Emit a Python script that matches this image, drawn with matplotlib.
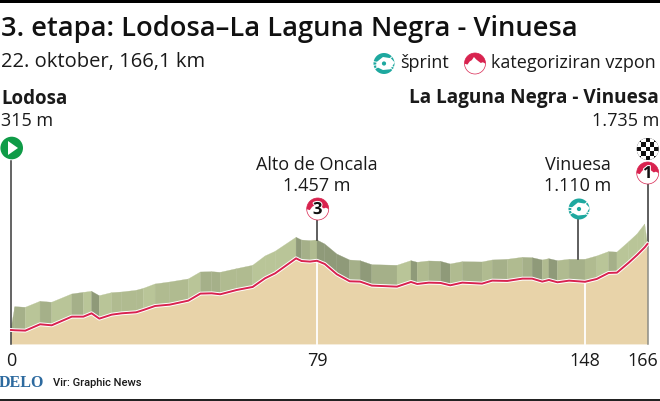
import numpy as np
import matplotlib
matplotlib.use("Agg")
import matplotlib.pyplot as plt
from matplotlib.patches import Circle, Polygon, Rectangle
import matplotlib.patheffects as pe

W, H = 660, 401

# profile
km = [0, 1, 3.7, 7.5, 10.5, 15.7, 18.7, 20.8, 22.8, 26, 28.6, 32.3, 34.2, 37.2, 41, 45.8, 48.9, 51.8, 54,
      58.3, 62.4, 65.6, 68.2, 73.6, 75, 77.2, 79, 81, 84.1, 87.4, 90.1, 93.1, 99.6, 103.2, 104.8, 107.8, 110.8,
      113.3, 116.4, 121.5, 124.1, 128, 131.9, 134.4, 137, 138.7, 140.9, 143.9, 148, 151.4, 154.8, 157.2, 160.6,
      163, 165.2, 166]
elev = [315, 310, 304, 409, 392, 535, 535, 590, 502, 568, 590, 607, 645, 711, 733, 799, 915, 920, 904,
        975, 1025, 1168, 1250, 1497, 1453, 1443, 1457, 1404, 1234, 1118, 1113, 1047, 1030, 1107, 1074, 1096, 1091,
        1052, 1096, 1080, 1129, 1124, 1162, 1162, 1113, 1140, 1102, 1129, 1110, 1157, 1256, 1261, 1426,
        1552, 1679, 1735]
ridge = [340, 700, 689, 788, 772, 909, 936, 953, 881, 931, 942, 969, 1002, 1074, 1107, 1157, 1272, 1277, 1266,
         1327, 1382, 1536, 1613, 1844, 1800, 1789, 1800, 1734, 1569, 1470, 1459, 1393, 1382, 1459, 1432, 1454, 1448,
         1404, 1442, 1437, 1470, 1481, 1514, 1508, 1470, 1492, 1459, 1481, 1481, 1536, 1608, 1600, 1772,
         1899, 2064, 1735]
tick_km = [0, 79, 148, 166]
tick_labels = ["0", "79", "148", "166"]
base_m = 85

# the km axis of the graphic is not quite linear, so map it through its labelled ticks
scale_km = [-2.84, 0, 79, 148, 166, 169.4]
scale_px = [0, 11, 317, 585, 647.5, 660]
fwd = lambda v: np.interp(v, scale_km, scale_px)
inv = lambda v: np.interp(v, scale_px, scale_km)

plt.rcParams["font.family"] = ["Open Sans", "DejaVu Sans"]
fig = plt.figure(figsize=(W / 100, H / 100), dpi=100)
ax = fig.add_axes([0, 0, 1, 1])
ax.set_xscale("function", functions=(fwd, inv))
ax.set_xlim(-2.84, 169.4)
ax.set_ylim(-857, 5760)
ax.axis("off")

# pixel overlay for headings and icons
ov = fig.add_axes([0, 0, 1, 1], zorder=3)
ov.set_xlim(0, W)
ov.set_ylim(H, 0)
ov.axis("off")
ov.patch.set_alpha(0)

BEIGE = "#e8d3a9"
RED = "#d8234f"
TEAL = "#1ea89f"

ax.fill_between(km, base_m, elev, color=BEIGE, lw=0, zorder=1)

# extruded band, one facet per segment, shaded by gradient
for i in range(len(km) - 1):
    slope = (elev[i + 1] - elev[i]) / (km[i + 1] - km[i])
    if slope < -8:
        c = "#8f9a79"
    elif slope < 3:
        c = "#a5b089"
    elif slope < 20:
        c = "#b0bb90"
    else:
        c = "#b9c598"
    ax.fill([km[i], km[i + 1], km[i + 1], km[i]], [elev[i], elev[i + 1], ridge[i + 1], ridge[i]],
            color=c, lw=0.2, zorder=2)

for k in tick_km[1:3]:
    ax.plot([k, k], [base_m, np.interp(k, km, elev)], color="white", lw=1.3, zorder=3)
ax.plot(km, elev, color=RED, lw=1.4, zorder=5, solid_joinstyle="round",
        path_effects=[pe.Stroke(linewidth=2.8, foreground="white"), pe.Normal()])

# stems
ax.plot([0, 0], [base_m, 3100], color="#3a3a3a", lw=1.1, zorder=4)
ax.plot([166, 166], [base_m, 1735], color="#8d8d85", lw=1.1, zorder=4)
ax.plot([166, 166], [1735, 2900], color="#333333", lw=1.1, zorder=4)
ax.plot([79, 79], [1800, 2400], color="#333333", lw=1.1, zorder=4)
ax.plot([146.3, 146.3], [1481, 2400], color="#333333", lw=1.1, zorder=4)

TXT = "#1a1a1a"


def label(x, y, s, size=13, ha="left", weight="normal", **kw):
    ov.text(x, y, s, fontsize=size, ha=ha, va="center", fontweight=weight, color=kw.pop("color", TXT), **kw)


def mountain_icon(cx, cy, r, digit=None):
    ov.add_patch(Circle((cx, cy), r, fc="white", ec=RED, lw=0.5, zorder=5))
    peak = [(-1, 0.02), (-0.72, 0.1), (-0.5, -0.2), (-0.3, -0.32), (-0.1, -0.62), (0.1, -0.4),
            (0.32, -0.22), (0.55, -0.05), (0.75, -0.12), (1, 0.02)]
    pts = [(cx + r * np.cos(a), cy + r * np.sin(a)) for a in np.linspace(np.pi, 2 * np.pi, 30)]
    pts += [(cx + r * p[0], cy + r * p[1]) for p in peak[::-1]]
    ov.add_patch(Polygon(pts, fc=RED, lw=0, zorder=6))
    if digit:
        ov.text(cx, cy, digit, fontsize=12, ha="center", va="center", fontweight="bold",
                color="#111111", zorder=7, path_effects=[pe.withStroke(linewidth=1.5, foreground="white")])


def sprint_icon(cx, cy, r):
    ov.add_patch(Circle((cx, cy), r, fc=TEAL, lw=0, zorder=5))
    ov.add_patch(Polygon([(cx - r * 0.72, cy - r * 0.12), (cx - r * 0.1, cy - r * 0.62), (cx + r * 0.65, cy - r * 0.5),
                          (cx + r * 1.02, cy - r * 0.1), (cx + r * 0.6, cy + r * 0.55), (cx - r * 0.1, cy + r * 0.62),
                          (cx - r * 0.75, cy + r * 0.3)], fc="white", lw=0, zorder=6))
    for a in (150, 170, 190, 20, 35, 320):
        ov.plot([cx + r * 0.6 * np.cos(np.radians(a)), cx + r * 1.02 * np.cos(np.radians(a))],
                [cy + r * 0.6 * np.sin(np.radians(a)), cy + r * 1.02 * np.sin(np.radians(a))],
                color="white", lw=0.7, zorder=7)
    ov.add_patch(Circle((cx, cy), r * 0.2, fc=TEAL, lw=0, zorder=7))


def checker_icon(cx, cy, r):
    disc = Circle((cx, cy), r, fc="#111111", lw=0, zorder=5)
    ov.add_patch(disc)
    s = 2 * r / 5
    for i in range(5):
        for j in range(5):
            if (i + j) % 2:
                rect = Rectangle((cx - r + i * s, cy - r + j * s), s, s, fc="white", lw=0, zorder=6)
                ov.add_patch(rect)
                rect.set_clip_path(disc)


# frame
ov.add_patch(Rectangle((0, 0), W, 3, fc="black", lw=0))
ov.add_patch(Rectangle((0, 399.3), W, 2, fc="#222222", lw=0))

# headings
label(1, 29, "3. etapa: Lodosa\u2013La Laguna Negra - Vinuesa", size=19.65, weight="semibold", color="#111111")
label(1, 62, "22. oktober, 166,1 km", size=14.5)
sprint_icon(384, 63.5, 10.5)
label(400, 63, "\u0161print", size=13)
mountain_icon(475, 63.5, 10.5)
label(491, 63, "kategoriziran vzpon", size=13)
label(1, 98.5, "Lodosa", size=13.5, weight="bold")
label(1, 120.5, "315 m", size=13)
label(659, 98.5, "La Laguna Negra - Vinuesa", size=13.7, ha="right", weight="bold")
label(659, 120.5, "1.735 m", size=13, ha="right")
label(317, 164.5, "Alto de Oncala", size=13, ha="center")
label(317, 186, "1.457 m", size=13, ha="center")
label(578, 164.5, "Vinuesa", size=13, ha="center")
label(578, 186, "1.110 m", size=13, ha="center")

# icons
ov.add_patch(Circle((11.7, 148), 11.3, fc="#0f9b47", lw=0, zorder=5))
ov.add_patch(Polygon([(8, 141), (8, 155), (18, 148)], fc="white", lw=0, zorder=6))
mountain_icon(317.7, 209, 11, "3")
sprint_icon(579, 209, 10.5)
checker_icon(647.7, 149, 11)
mountain_icon(647.7, 173, 11, "1")

# km ticks
for k, s, x in zip(tick_km, tick_labels, [11, 317, 585, 643]):
    label(x, 361, s, size=13, ha="center")

# credits
ov.text(-1, 383, "DELO", fontsize=11.5, family="Liberation Serif", fontweight="bold", color="#2d6a9f", va="center")
ov.text(53, 383, "Vir: Graphic News", fontsize=8, family="Roboto", fontweight="medium", color=TXT, va="center")

fig.savefig("out.png", dpi=100)
